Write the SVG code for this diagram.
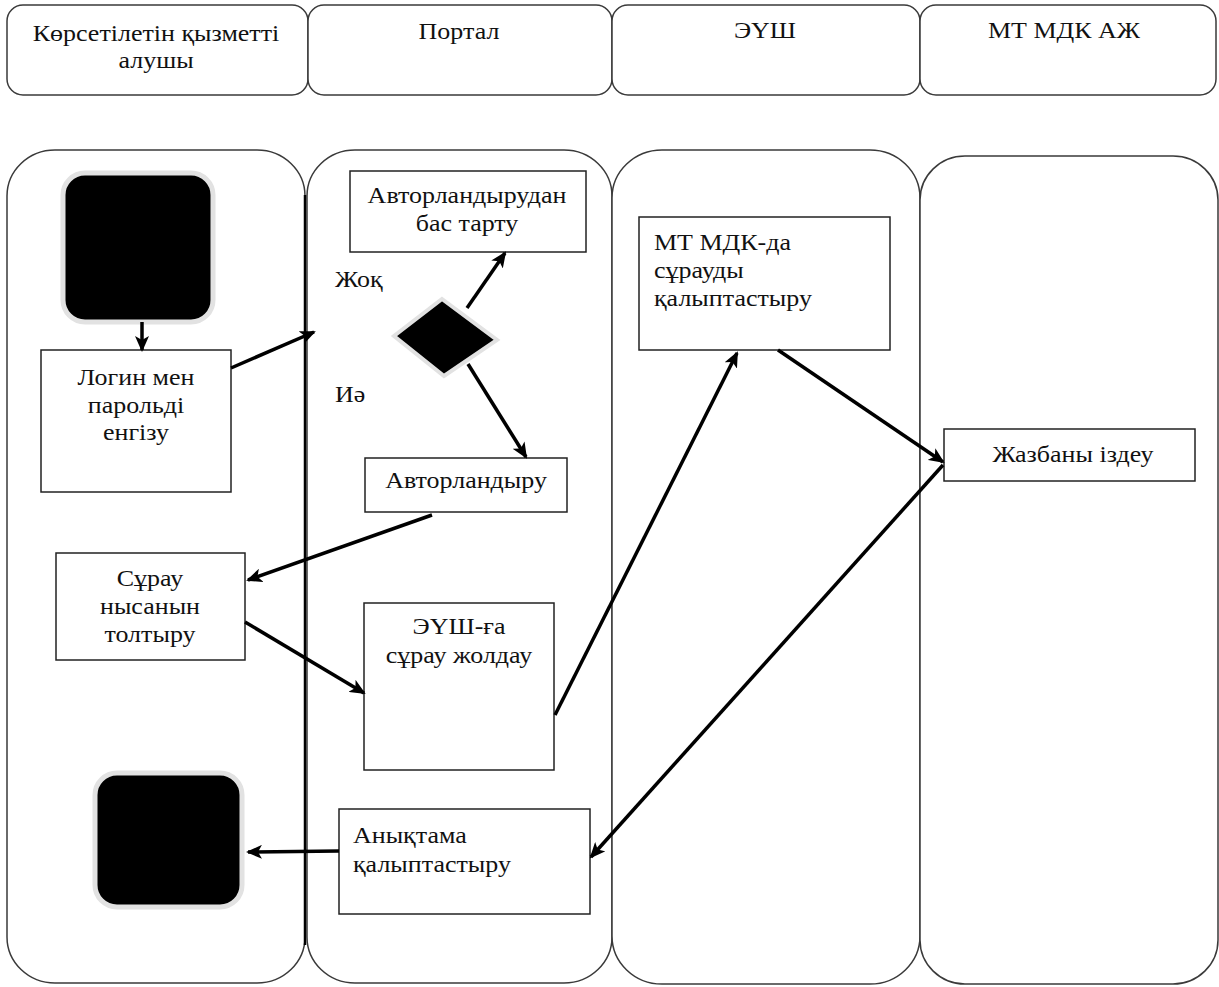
<svg xmlns="http://www.w3.org/2000/svg" width="1219" height="987" viewBox="0 0 1219 987">
<style>
.hdr{fill:#fff;stroke:#3a3a3a;stroke-width:1.5}
.lane{fill:#fff;stroke:#3a3a3a;stroke-width:1.5}
.box{fill:#fff;stroke:#222;stroke-width:1.5}
.term{fill:#000;stroke:#e2e2e2;stroke-width:5}
.t{font-family:"Liberation Serif","DejaVu Serif",serif;font-size:23px;fill:#111}
.c{text-anchor:middle}
.arr{stroke:#000;stroke-width:3.5;fill:none;marker-end:url(#ah)}
</style>
<defs>
<marker id="ah" markerUnits="userSpaceOnUse" markerWidth="16" markerHeight="14" refX="14" refY="7" orient="auto">
<path d="M0,0 L16,7 L0,14 L4,7 Z" fill="#000"/>
</marker>
</defs>
<rect width="1219" height="987" fill="#fff"/>
<g id="headers">
<rect class="hdr" x="7" y="5" width="301" height="90" rx="16"/>
<rect class="hdr" x="308" y="5" width="304" height="90" rx="16"/>
<rect class="hdr" x="612" y="5" width="308" height="90" rx="16"/>
<rect class="hdr" x="920" y="5" width="296" height="90" rx="16"/>
<text class="t c" transform="translate(156 0) scale(1.13 1)" y="41">Көрсетілетін қызметті</text>
<text class="t c" transform="translate(156 0) scale(1.13 1)" y="68">алушы</text>
<text class="t c" transform="translate(459 0) scale(1.13 1)" y="39">Портал</text>
<text class="t c" transform="translate(765 0) scale(1.13 1)" y="38">ЭҮШ</text>
<text class="t c" transform="translate(1064 0) scale(1.13 1)" y="38">МТ МДК АЖ</text>
</g>
<g id="lanes">
<rect class="lane" x="7" y="150" width="298" height="833" rx="48" ry="46"/>
<rect class="lane" x="307" y="150" width="305" height="833" rx="48" ry="46"/>
<rect class="lane" x="612" y="150" width="308" height="834" rx="50" ry="48"/>
<rect class="lane" x="920" y="156" width="298" height="828" rx="45" ry="44"/>
<line x1="305" y1="195" x2="305" y2="945" stroke="#000" stroke-width="2.5"/>
</g>
<g id="start"><rect class="term" x="63" y="173" width="150" height="149" rx="22"/></g>
<g id="end"><rect class="term" x="95" y="773" width="147" height="134" rx="22"/></g>
<g id="login">
<rect class="box" x="41" y="350" width="190" height="142"/>
<text class="t c" transform="translate(136 0) scale(1.13 1)" y="385">Логин мен</text>
<text class="t c" transform="translate(136 0) scale(1.13 1)" y="413">парольді</text>
<text class="t c" transform="translate(136 0) scale(1.13 1)" y="440">енгізу</text>
</g>
<g id="refuse">
<rect class="box" x="350" y="171" width="236" height="81"/>
<text class="t c" transform="translate(467 0) scale(1.13 1)" y="203">Авторландырудан</text>
<text class="t c" transform="translate(467 0) scale(1.13 1)" y="231">бас тарту</text>
</g>
<g id="decision">
<polygon points="442,299 497,340 444,376 394,336" fill="#000" stroke="#e2e2e2" stroke-width="4"/>
</g>
<g id="labels">
<text class="t" transform="translate(335 0) scale(1.13 1)" y="287">Жоқ</text>
<text class="t" transform="translate(335 0) scale(1.13 1)" y="402">Иә</text>
</g>
<g id="auth">
<rect class="box" x="365" y="458" width="202" height="54"/>
<text class="t c" transform="translate(466 0) scale(1.13 1)" y="488">Авторландыру</text>
</g>
<g id="fill">
<rect class="box" x="56" y="553" width="189" height="107"/>
<text class="t c" transform="translate(150 0) scale(1.13 1)" y="586">Сұрау</text>
<text class="t c" transform="translate(150 0) scale(1.13 1)" y="614">нысанын</text>
<text class="t c" transform="translate(150 0) scale(1.13 1)" y="642">толтыру</text>
</g>
<g id="send">
<rect class="box" x="364" y="603" width="190" height="167"/>
<text class="t c" transform="translate(459 0) scale(1.13 1)" y="634">ЭҮШ-ға</text>
<text class="t c" transform="translate(459 0) scale(1.13 1)" y="663">сұрау жолдау</text>
</g>
<g id="form">
<rect class="box" x="639" y="217" width="251" height="133"/>
<text class="t" transform="translate(654 0) scale(1.13 1)" y="250">МТ МДК-да</text>
<text class="t" transform="translate(654 0) scale(1.13 1)" y="278">сұрауды</text>
<text class="t" transform="translate(654 0) scale(1.13 1)" y="306">қалыптастыру</text>
</g>
<g id="search">
<rect class="box" x="944" y="429" width="251" height="52"/>
<text class="t c" transform="translate(1073 0) scale(1.13 1)" y="462">Жазбаны іздеу</text>
</g>
<g id="answer">
<rect class="box" x="339" y="809" width="251" height="105"/>
<text class="t" transform="translate(353 0) scale(1.13 1)" y="843">Анықтама</text>
<text class="t" transform="translate(353 0) scale(1.13 1)" y="872">қалыптастыру</text>
</g>
<g id="connectors">
<line class="arr" x1="142" y1="322" x2="142" y2="350"/>
<line class="arr" x1="231" y1="368" x2="314" y2="332"/>
<line class="arr" x1="467" y1="308" x2="505" y2="253"/>
<line class="arr" x1="468" y1="364" x2="526" y2="457"/>
<line class="arr" x1="432" y1="515" x2="248" y2="580"/>
<line class="arr" x1="245" y1="622" x2="364" y2="693"/>
<line class="arr" x1="555" y1="715" x2="737" y2="353"/>
<line class="arr" x1="778" y1="350" x2="943" y2="462"/>
<line class="arr" x1="943" y1="465" x2="591" y2="857"/>
<line class="arr" x1="339" y1="851" x2="248" y2="852"/>
</g>
</svg>
